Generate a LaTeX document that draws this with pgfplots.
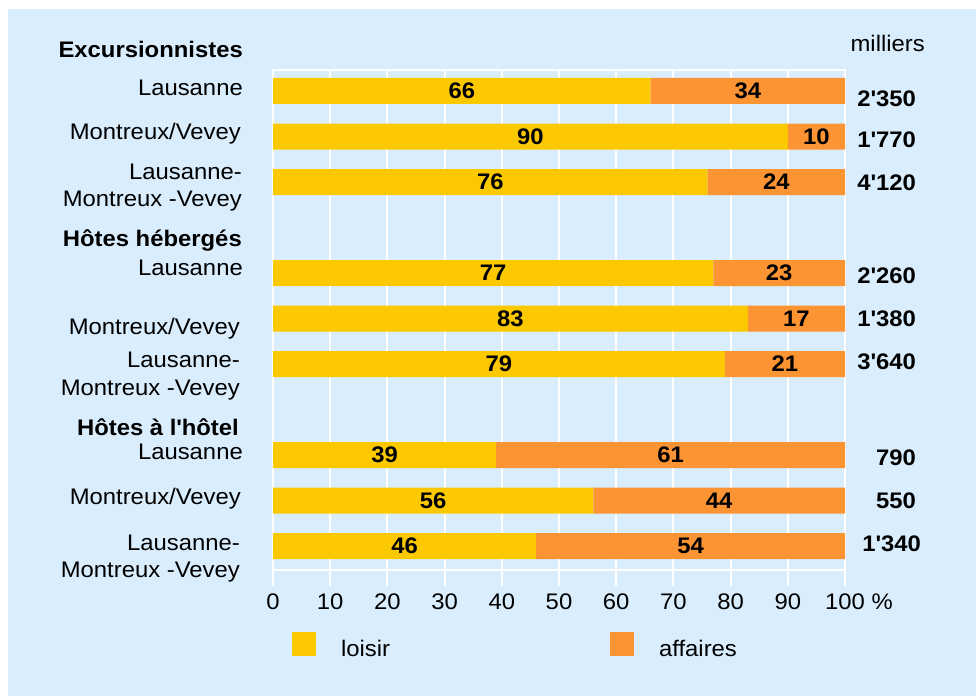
\documentclass[border=0pt]{standalone}
\usepackage{pgfplots}
\pgfplotsset{compat=1.18}
\usepackage{pgfplotstable}
\usepackage{fontspec}
\setmainfont{Liberation Sans}[FakeStretch=1.06]
\definecolor{bg}{HTML}{D9EDFD}
\definecolor{cloisir}{HTML}{FCC900}
\definecolor{caffaires}{HTML}{FD9433}
\newcommand\q{\textquotesingle}

% pos = row from the top (3 and 7 are the gaps under the group titles)
\pgfplotstableread{
pos loisir affaires
0  66 34
1  90 10
2  76 24
4  77 23
5  83 17
6  79 21
8  39 61
9  56 44
10 46 54
}\shares

\begin{document}
\fontsize{22.5}{27}\selectfont
\begin{tikzpicture}[val/.style={font=\bfseries}]
\path[use as bounding box] (0pt,0pt) rectangle (976pt,696pt);
\fill[bg] (8pt,0pt) rectangle (976pt,687pt);

\begin{axis}[
  at={(273pt,126pt)}, anchor=south west,
  scale only axis, width=572pt, height=500pt,
  xbar stacked, reverse stacked plots=false, bar width=26pt,
  xmin=0, xmax=100, ymin=-0.4615, ymax=10.527, y dir=reverse,
  ytick=\empty,
  xtick={0,10,...,100},
  xticklabels={0,10,20,30,40,50,60,70,80,90,{100\rlap{ \%}}},
  xtick pos=bottom,
  axis line style={white, line width=2pt},
  xmajorgrids, major grid style={white, line width=2pt},
  tick style={white, line width=2pt}, major tick length=16pt, tick align=outside,
  tick label style={font=\fontsize{22.5}{27}\selectfont, text=black},
  legend style={at={(axis description cs:0.033,-0.152)}, anchor=west,
    draw=none, fill=none, inner sep=0pt, legend columns=2,
    nodes={inner sep=0pt, font=\fontsize{22.5}{27}\selectfont},
    /tikz/every odd column/.append style={column sep=25pt},
    /tikz/every even column/.append style={column sep=220pt}},
  legend image code/.code={\fill[#1] (0pt,-6pt) rectangle (24pt,18pt);},
]
\addplot[fill=cloisir, draw=none] table[x=loisir, y=pos] {\shares};
\addplot[fill=caffaires, draw=none] table[x=affaires, y=pos] {\shares};
\legend{loisir, affaires}

\node[val] at (33,0) {66};   \node[val] at (83,0) {34};
\node[val] at (45,1) {90};   \node[val] at (95,1) {10};
\node[val] at (38,2) {76};   \node[val] at (88,2) {24};
\node[val] at (38.5,4) {77}; \node[val] at (88.5,4) {23};
\node[val] at (41.5,5) {83}; \node[val] at (91.5,5) {17};
\node[val] at (39.5,6) {79}; \node[val] at (89.5,6) {21};
\node[val] at (19.5,8) {39}; \node[val] at (69.5,8) {61};
\node[val] at (28,9) {56};   \node[val] at (78,9) {44};
\node[val] at (23,10) {46};  \node[val] at (73,10) {54};
\end{axis}

% row labels on the left
\begin{scope}[every node/.style={anchor=base east, inner sep=0pt}]
\node[val] at (243pt,638pt) {Excursionnistes};
\node at (243pt,600pt) {Lausanne};
\node at (241pt,556pt) {Montreux/Vevey};
\node at (242pt,516pt) {Lausanne-};
\node at (242pt,489pt) {Montreux -Vevey};
\node[val] at (242pt,449pt) {Hôtes hébergés};
\node at (243pt,420pt) {Lausanne};
\node at (240pt,361pt) {Montreux/Vevey};
\node at (240pt,328pt) {Lausanne-};
\node at (240pt,300pt) {Montreux -Vevey};
\node[val] at (239pt,260pt) {Hôtes à l\q hôtel};
\node at (243pt,236pt) {Lausanne};
\node at (241pt,191pt) {Montreux/Vevey};
\node at (240pt,146pt) {Lausanne-};
\node at (240pt,119pt) {Montreux -Vevey};
% totals on the right
\node at (925pt,644pt) {milliers};
\node[val] at (916pt,589pt) {2\q 350};
\node[val] at (916pt,548pt) {1\q 770};
\node[val] at (916pt,505pt) {4\q 120};
\node[val] at (916pt,412pt) {2\q 260};
\node[val] at (916pt,369pt) {1\q 380};
\node[val] at (916pt,326pt) {3\q 640};
\node[val] at (916pt,230pt) {790};
\node[val] at (916pt,187pt) {550};
\node[val] at (921pt,145pt) {1\q 340};
\end{scope}
\end{tikzpicture}
\end{document}
